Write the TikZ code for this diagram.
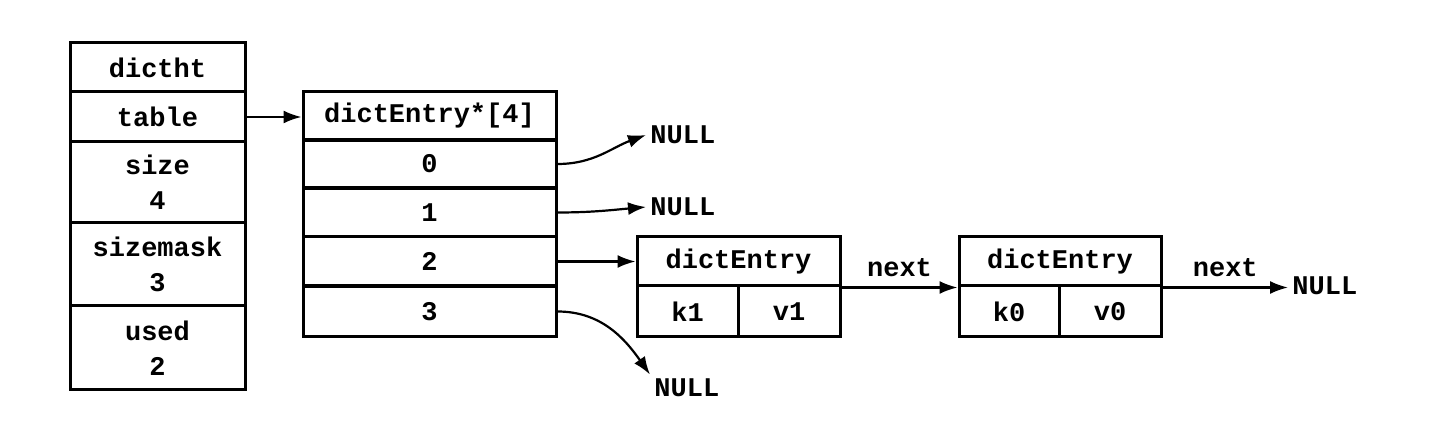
\documentclass[tikz,border=0pt]{standalone}
\usepackage{fontspec}
\setmonofont{Liberation Mono}
\usepackage{tikz}
\usetikzlibrary{arrows.meta,positioning}

\begin{document}
\begin{tikzpicture}[
  x=0.5pt, y=-0.5pt,
  >={Latex[length=9pt,width=6.5pt]},
  every node/.style={font=\ttfamily\bfseries\fontsize{13.5}{17.5}\selectfont},
  cell/.style={rectangle, draw=black, line width=1.5pt, inner sep=0pt, align=center, minimum width=#1},
  cell/.default=87.5pt,
  link/.style={->, line width=1.1pt},
  word/.style={inner sep=2pt}
]
  \useasboundingbox (0,0) rectangle (1454,426);

  % dictht
  \node[cell=87.5pt, minimum height=24.5pt] (ht)    at (157.5,67.5) {dictht};
  \node[cell=87.5pt, minimum height=25pt]   (table) at (157.5,117)  {table};
  \node[cell=87.5pt, minimum height=40.5pt] (size)  at (157.5,182.5) {size\\4};
  \node[cell=87.5pt, minimum height=41.5pt] (mask)  at (157.5,264.5) {sizemask\\3};
  \node[cell=87.5pt, minimum height=42pt]   (used)  at (157.5,348)  {used\\2};

  % dictEntry*[4]
  \node[cell=126.5pt, minimum height=24.5pt] (arr) at (429.5,116)   {dictEntry*[4]};
  \node[cell=126.5pt, minimum height=24.5pt] (r0)  at (429.5,164)   {0};
  \node[cell=126.5pt, minimum height=24.5pt] (r1)  at (429.5,212.5) {1};
  \node[cell=126.5pt, minimum height=24.5pt] (r2)  at (429.5,261.5) {2};
  \node[cell=126.5pt, minimum height=25pt]   (r3)  at (429.5,311.5) {3};

  % dictEntry k1 v1
  \node[cell=101.5pt, minimum height=24.5pt] (e1) at (738.5,261.5) {dictEntry};
  \node[cell=50.5pt,  minimum height=25.5pt] (k1) at (687.5,311.5) {k1};
  \node[cell=51pt,    minimum height=25.5pt] (v1) at (789,311.5)   {v1};

  % dictEntry k0 v0
  \node[cell=101pt, minimum height=24.5pt] (e0) at (1060,261.5) {dictEntry};
  \node[cell=50pt,  minimum height=25.5pt] (k0) at (1009,311.5) {k0};
  \node[cell=51pt,  minimum height=25.5pt] (v0) at (1110,311.5) {v0};

  % NULL
  \node[word, anchor=west] (n0) at (646,135)  {NULL};
  \node[word, anchor=west] (n1) at (646,207)  {NULL};
  \node[word, anchor=west] (n3) at (650,388)  {NULL};
  \node[word, anchor=west] (n4) at (1288,286) {NULL};

  \draw[link] (table.east) -- (table.east -| arr.west);
  \draw[link] (r0.east) to[out=0, in=200] (n0.west);
  \draw[link] (r1.east) to[out=0, in=185] (n1.west);
  \draw[link] (r2.east) -- (e1.west);
  \draw[link] (r3.east) to[out=0, in=125] (n3.north west);
  \draw[link] (e1.south east) -- node[word, above=3pt] {next} (e0.south west);
  \draw[link] (e0.south east) -- node[word, above=3pt] {next} (e0.south east -| n4.west);
\end{tikzpicture}
\end{document}
